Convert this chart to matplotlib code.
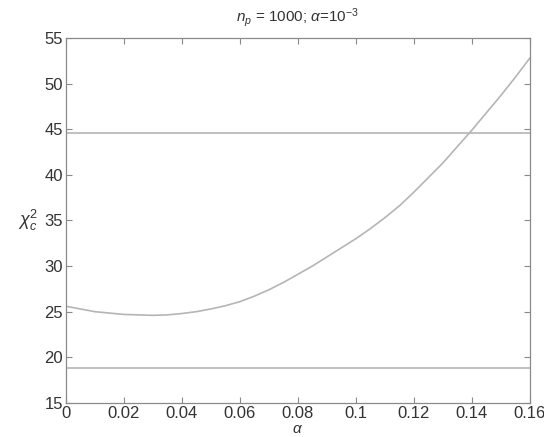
import matplotlib
matplotlib.use('Agg')
import matplotlib.pyplot as plt

# Values
alpha = [0.000, 0.005, 0.010, 0.015, 0.020, 0.025, 0.030, 0.035, 0.040,
         0.045, 0.050, 0.055, 0.060, 0.065, 0.070, 0.075, 0.080, 0.085,
         0.090, 0.095, 0.100, 0.105, 0.110, 0.115, 0.120, 0.125, 0.130,
         0.135, 0.140, 0.145, 0.150, 0.155, 0.160]
chi2 = [25.6, 25.3, 25.0, 24.85, 24.7, 24.65, 24.6, 24.65, 24.8,
        25.0, 25.3, 25.65, 26.1, 26.7, 27.4, 28.2, 29.1, 30.0,
        31.0, 32.0, 33.0, 34.1, 35.3, 36.6, 38.1, 39.7, 41.3,
        43.1, 44.9, 46.8, 48.7, 50.7, 52.8]
upper_bound = 44.6
lower_bound = 18.8

x_ticks = [0, 0.02, 0.04, 0.06, 0.08, 0.1, 0.12, 0.14, 0.16]
x_tick_labels = ['0', '0.02', '0.04', '0.06', '0.08', '0.1', '0.12', '0.14', '0.16']
y_ticks = [15, 20, 25, 30, 35, 40, 45, 50, 55]

plt.rcParams['font.family'] = ['Liberation Sans', 'DejaVu Sans']
plt.rcParams['mathtext.fontset'] = 'custom'
plt.rcParams['mathtext.rm'] = 'Liberation Sans'
plt.rcParams['mathtext.it'] = 'Liberation Sans:italic'

line_color = '#b5b5b5'
text_color = '#333333'
axis_color = '#8a8a8a'

fig = plt.figure(figsize=(5.44, 4.37), dpi=100)
ax = fig.add_axes([0.121, 0.078, 0.853, 0.835])

ax.plot(alpha, chi2, color=line_color, linewidth=1.2)
ax.axhline(upper_bound, color=line_color, linewidth=1.2)
ax.axhline(lower_bound, color=line_color, linewidth=1.2)

ax.set_xlim(0, 0.16)
ax.set_ylim(15, 55)
ax.set_xticks(x_ticks)
ax.set_xticklabels(x_tick_labels)
ax.set_yticks(y_ticks)

ax.tick_params(direction='in', top=True, right=True, length=4, width=0.8,
               colors=axis_color, labelcolor=text_color, labelsize=12, pad=2)
for s in ax.spines.values():
    s.set_color(axis_color)
    s.set_linewidth(0.9)

ax.set_title(r'$n_p$ = 1000; $\alpha$=10$^{-3}$', fontsize=11, color=text_color, pad=12)
ax.set_xlabel(r'$\alpha$', fontsize=11, color=text_color, labelpad=1)
ax.set_ylabel(r'$\chi^2_c$', fontsize=13, color=text_color, rotation=0, labelpad=12,
              va='center')

fig.savefig('out.png', dpi=100, facecolor='white')
plt.close('all')
